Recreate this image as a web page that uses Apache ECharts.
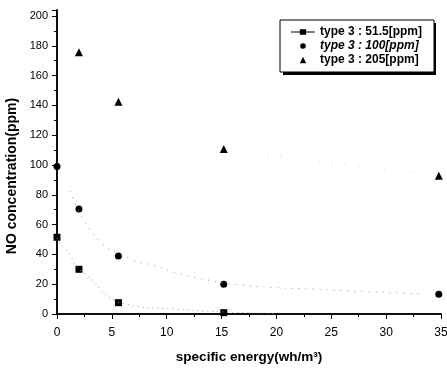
<!DOCTYPE html>
<html>
<head>
<meta charset="utf-8">
<script src="https://cdn.jsdelivr.net/npm/echarts@6/dist/echarts.min.js"></script>
<style>
  html, body { margin: 0; padding: 0; background: #fff; }
  #chart { width: 447px; height: 368px; }
</style>
</head>
<body>
<div id="chart"></div>
<script>
// measured points
const energy = [0, 2, 5.6, 15.2, 34.8];
const no515 = [51.5, 30, 7.6, 0.9, null];
const no100 = [99, 70.5, 39, 20, 13.2];
const no205 = [null, 175.6, 142.5, 110.7, 92.8];

// faint fitted curves
const fit515X = [0, 0.3, 1.2, 1.6, 2.5, 6.2, 10.6, 14.9, 20];
const fit515Y = [51, 47, 39.6, 33.6, 27, 6.7, 3.4, 1.5, 0.4];
const fit100X = [1.2, 3.5, 6.8, 8.9, 11, 13.8, 16.1, 19.9, 23.1, 28.2, 33.5];
const fit100Y = [82.5, 52, 36.7, 32.4, 27.3, 22.8, 20, 17.7, 16.8, 15, 13.4];
const fit205X = [19.2, 33.3];
const fit205Y = [106.7, 94];

const names = ['type 3 : 51.5[ppm]', 'type 3 : 100[ppm]', 'type 3 : 205[ppm]'];

const pairs = (xs, ys) => xs.map((x, i) => [x, ys[i]]).filter(p => p[1] != null);

const font = 'Liberation Sans, Arial, sans-serif';

// legend icons drawn in a 30x8 box so they keep their shape
const iconSquareLine = 'path://M0,3.5L11,3.5L11,0.5L19,0.5L19,3.5L30,3.5L30,4.5L19,4.5L19,7.5L11,7.5L11,4.5L0,4.5Z';
const iconCircle = 'path://M0,4L0.01,4L0,4.01ZM30,4L29.99,4L30,4.01ZM15,0.5A3.5,3.5,0,1,1,14.99,0.5Z';
const iconTriangle = 'path://M0,4L0.01,4L0,4.01ZM30,4L29.99,4L30,4.01ZM15,0L19,8L11,8Z';

const chart = echarts.init(document.getElementById('chart'));

const axisLine = { lineStyle: { color: '#000', width: 1.5 } };

chart.setOption({
    animation: false,
    backgroundColor: '#fff',
    textStyle: { fontFamily: font },
    grid: { left: 57, right: 6, top: 10, bottom: 54, containLabel: false, outerBoundsMode: 'none' },
    // drop shadow behind the legend box
    graphic: [{
        type: 'rect', left: 283, top: 23, z: 1, silent: true,
        shape: { width: 153, height: 52 },
        style: { fill: '#000' }
    }],
    legend: {
        orient: 'vertical',
        left: 280,
        top: 20,
        z: 5,
        padding: [5, 12, 5, 11],
        itemGap: 0,
        itemWidth: 24,
        itemHeight: 8,
        backgroundColor: '#fff',
        borderColor: '#000',
        borderWidth: 1,
        textStyle: { fontFamily: font, fontSize: 12, fontWeight: 'bold', color: '#000', lineHeight: 14 },
        data: [
            { name: names[0], icon: iconSquareLine },
            { name: names[1], icon: iconCircle, textStyle: { fontStyle: 'italic' } },
            { name: names[2], icon: iconTriangle }
        ]
    },
    xAxis: [{
        type: 'value',
        min: 0, max: 35, interval: 5,
        position: 'bottom',
        name: 'specific energy(wh/m³)',
        nameLocation: 'middle',
        nameGap: 36,
        nameTextStyle: { fontFamily: font, fontSize: 13.5, fontWeight: 'bold', color: '#000' },
        axisLine: axisLine,
        axisTick: { inside: false, length: 5, lineStyle: { color: '#000' } },
        minorTick: { show: true, splitNumber: 2, length: 3, lineStyle: { color: '#000' } },
        axisLabel: { fontFamily: font, fontSize: 12, color: '#000', margin: 13 },
        splitLine: { show: false }
    }, {
        type: 'value',
        min: 0, max: 35, interval: 5,
        position: 'top',
        axisLine: axisLine,
        axisTick: { inside: true, length: 5, lineStyle: { color: '#000' } },
        minorTick: { show: true, splitNumber: 2, length: 3, lineStyle: { color: '#000' } },
        axisLabel: { show: false },
        splitLine: { show: false }
    }],
    yAxis: [{
        type: 'value',
        min: 0, max: 204, interval: 20,
        position: 'left',
        name: 'NO concentration(ppm)',
        nameLocation: 'middle',
        nameGap: 32,
        nameTextStyle: {
            fontFamily: font, fontSize: 14, fontWeight: 'bold', color: '#000',
            padding: [0, 28, 0, 0]
        },
        axisLine: axisLine,
        axisTick: { inside: false, length: 5, lineStyle: { color: '#000' } },
        minorTick: { show: true, splitNumber: 2, length: 3, lineStyle: { color: '#000' } },
        axisLabel: {
            fontFamily: font, fontSize: 11, color: '#000', margin: 9,
            formatter: v => (v % 20 === 0 ? String(v) : '')
        },
        splitLine: { show: false }
    }, {
        type: 'value',
        min: 0, max: 204, interval: 20,
        position: 'right',
        axisLine: axisLine,
        axisTick: { inside: true, length: 5, lineStyle: { color: '#000' } },
        minorTick: { show: true, splitNumber: 2, length: 3, lineStyle: { color: '#000' } },
        axisLabel: { show: false },
        splitLine: { show: false }
    }],
    series: [
        {
            type: 'line', smooth: true, symbol: 'none', silent: true,
            lineStyle: { color: '#999', width: 1, type: [1, 4] },
            data: pairs(fit515X, fit515Y)
        },
        {
            type: 'line', smooth: true, symbol: 'none', silent: true,
            lineStyle: { color: '#999', width: 1, type: [1, 6] },
            data: pairs(fit100X, fit100Y)
        },
        {
            type: 'line', smooth: true, symbol: 'none', silent: true,
            lineStyle: { color: '#ccc', width: 1, type: [1, 12] },
            data: pairs(fit205X, fit205Y)
        },
        {
            name: names[0], type: 'scatter', symbol: 'rect', symbolSize: 7,
            itemStyle: { color: '#000', opacity: 1 },
            data: pairs(energy, no515)
        },
        {
            name: names[1], type: 'scatter', symbol: 'circle', symbolSize: 7,
            itemStyle: { color: '#000', opacity: 1 },
            data: pairs(energy, no100)
        },
        {
            name: names[2], type: 'scatter', symbol: 'triangle', symbolSize: 8,
            itemStyle: { color: '#000', opacity: 1 },
            data: pairs(energy, no205)
        }
    ]
});
</script>
</body>
</html>
